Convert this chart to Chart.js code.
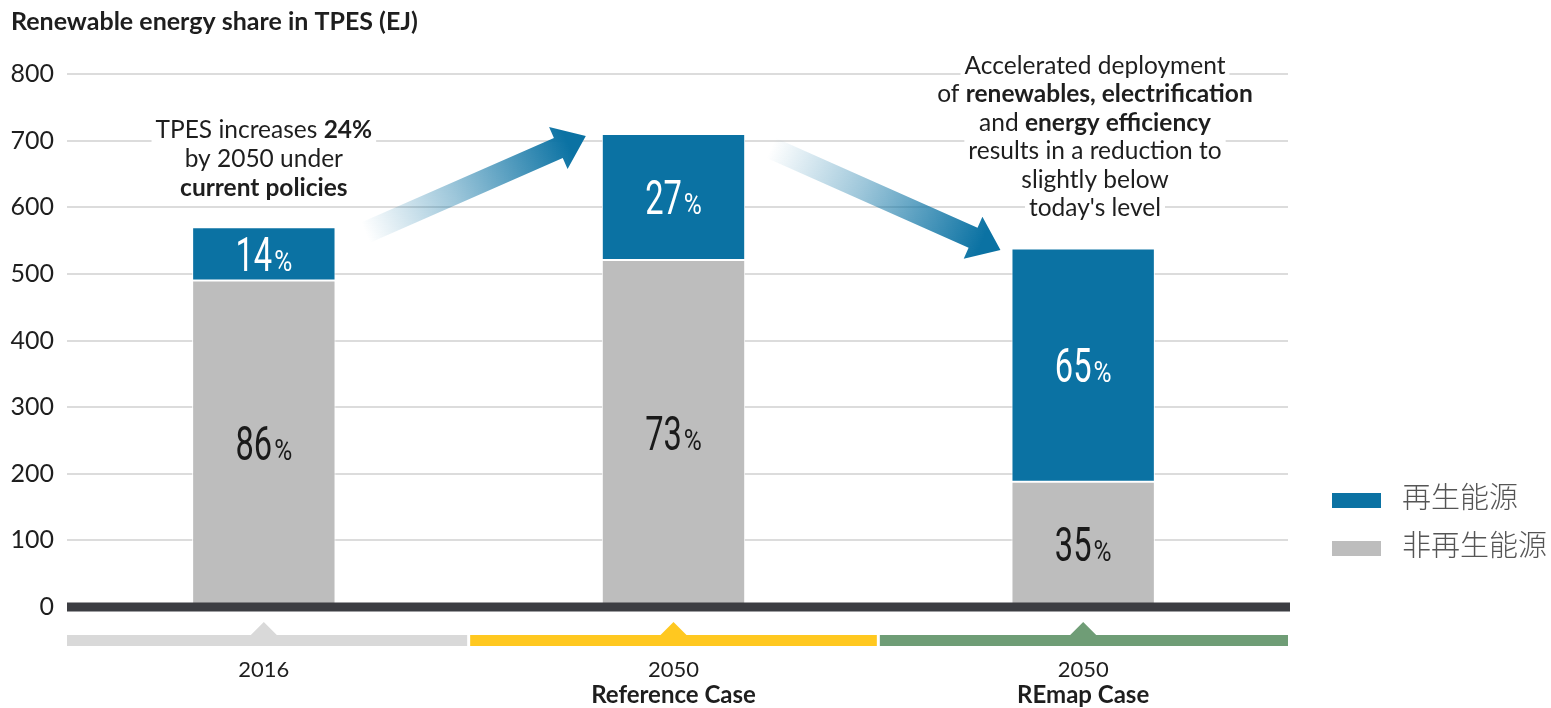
<!DOCTYPE html>
<html lang="en"><head><meta charset="UTF-8"><title>Renewable energy share in TPES</title>
<style>
  html,body{margin:0;padding:0;background:#fff;}
  .wrap{position:relative;width:1551px;height:708px;}
</style>
<script src="https://cdn.jsdelivr.net/npm/chart.js"></script>
</head><body>
<div class="wrap"><canvas id="c" width="1551" height="708"></canvas></div>
<script>
// --- data ---
const years      = ['2016', '2050', '2050'];
const caseNames  = ['', 'Reference Case', 'REmap Case'];
const nonRenew   = [490, 521, 188];   // EJ, grey segment
const renew      = [80, 189, 350];    // EJ, blue segment
const nonPct     = [86, 73, 35];
const renewPct   = [14, 27, 65];
const yTicks     = [0, 100, 200, 300, 400, 500, 600, 700, 800];
const seriesNames = ['再生能源', '非再生能源'];
const bandColors = ['#d9d9d9', '#ffc820', '#6f9d76'];

const title = 'Renewable energy share in TPES (EJ)';
// rich-text notes: [text, bold]
const noteLeft = [
  [['TPES increases ', false], ['24%', true]],
  [['by 2050 under', false]],
  [['current policies', true]]
];
const noteRight = [
  [['Accelerated deployment', false]],
  [['of ', false], ['renewables, electrification', true]],
  [['and ', false], ['energy efficiency', true]],
  [['results in a reduction to', false]],
  [['slightly below', false]],
  [["today's level", false]]
];

const BLUE = '#0b72a3';
const GREY = '#bdbdbd';
const FONT = "Lato, 'Open Sans', sans-serif";
const NUMF = "Roboto, 'DejaVu Sans', sans-serif";
const LINE_START = 67;   // gridlines begin right of the tick labels

function richLine(ctx, segs, cx, cy, size) {
  let w = 0;
  const parts = segs.map(([t, b]) => {
    ctx.font = (b ? '700 ' : '400 ') + size + 'px ' + FONT;
    const sw = ctx.measureText(t).width;
    w += sw;
    return { t, b, sw };
  });
  ctx.fillStyle = '#fff';
  ctx.fillRect(cx - w / 2 - 4, cy - size * 0.5, w + 8, size * 1.0);
  let x = cx - w / 2;
  ctx.fillStyle = '#1e1e1e';
  ctx.textBaseline = 'middle';
  ctx.textAlign = 'left';
  for (const p of parts) {
    ctx.font = (p.b ? '700 ' : '400 ') + size + 'px ' + FONT;
    ctx.fillText(p.t, x, cy);
    x += p.sw;
  }
}

function arrow(ctx, x0, y0, x1, y1) {
  const ang = Math.atan2(y1 - y0, x1 - x0);
  const len = Math.hypot(x1 - x0, y1 - y0);
  const shaft = 11, head = 23, headLen = 30;
  ctx.save();
  ctx.translate(x0, y0);
  ctx.rotate(ang);
  const g = ctx.createLinearGradient(0, 0, len, 0);
  g.addColorStop(0, 'rgba(11,114,163,0)');
  g.addColorStop(0.4, 'rgba(11,114,163,0.4)');
  g.addColorStop(0.92, 'rgba(11,114,163,1)');
  ctx.fillStyle = g;
  ctx.beginPath();
  ctx.moveTo(0, -shaft);
  ctx.lineTo(len - headLen, -shaft);
  ctx.lineTo(len - headLen, -head);
  ctx.lineTo(len, 0);
  ctx.lineTo(len - headLen, head);
  ctx.lineTo(len - headLen, shaft);
  ctx.lineTo(0, shaft);
  ctx.closePath();
  ctx.fill();
  ctx.restore();
}

const decor = {
  id: 'decor',
  beforeDatasetsDraw(chart) {
    // trim the grid so it starts a little right of the labels
    const { ctx, chartArea: ca } = chart;
    ctx.fillStyle = '#fff';
    ctx.fillRect(ca.left - 2, ca.top - 3, LINE_START - ca.left + 2, ca.bottom - ca.top + 6);
  },
  afterDatasetsDraw(chart) {
    const { ctx, chartArea: ca, scales: { x, y } } = chart;
    const bars = chart.getDatasetMeta(1).data;
    const y0 = y.getPixelForValue(0);

    // arrows between the bars
    const half = bars[0].width / 2;
    arrow(ctx, bars[0].x + half + 30, y.getPixelForValue(562),
               bars[1].x - half - 16, y.getPixelForValue(707));
    arrow(ctx, bars[1].x + half + 26, y.getPixelForValue(689),
               bars[2].x - half - 11, y.getPixelForValue(536));

    // percentage labels inside segments (condensed digits)
    const lbl = (pct, cx, cy, col) => {
      ctx.save();
      ctx.fillStyle = col;
      ctx.textBaseline = 'alphabetic';
      ctx.textAlign = 'left';
      const n = String(pct);
      ctx.font = '400 48px ' + NUMF;
      const nw = ctx.measureText(n).width * 0.68;
      ctx.font = '400 30px ' + NUMF;
      const pw = ctx.measureText('%').width * 0.82;
      const sx = cx - (nw + pw + 2) / 2;
      ctx.translate(sx, cy + 17);
      ctx.save();
      ctx.scale(0.68, 1);
      ctx.font = '400 48px ' + NUMF;
      ctx.fillText(n, 0, 0);
      ctx.restore();
      ctx.translate(nw + 2, 0);
      ctx.scale(0.82, 1);
      ctx.font = '400 30px ' + NUMF;
      ctx.fillText('%', 0, 0);
      ctx.restore();
    };
    chart.getDatasetMeta(0).data.forEach((b, i) => {
      lbl(nonPct[i], b.x, (b.y + b.base) / 2, '#1a1a1a');
    });
    bars.forEach((b, i) => {
      lbl(renewPct[i], b.x, (b.y + b.base) / 2, '#ffffff');
    });

    // thick zero axis
    ctx.fillStyle = '#3c3d42';
    ctx.fillRect(LINE_START, y0 - 4.5, ca.right + 2 - LINE_START, 9);

    // coloured bands with pointers and category labels
    const step = (ca.right - ca.left) / years.length;
    years.forEach((yr, i) => {
      const cx = x.getPixelForValue(i);
      const l = i ? ca.left + step * i + 1.5 : LINE_START;
      const r = ca.left + step * (i + 1) - (i < years.length - 1 ? 1.5 : 0);
      ctx.fillStyle = bandColors[i];
      ctx.fillRect(l, y0 + 28, r - l, 11);
      ctx.beginPath();
      ctx.moveTo(cx - 14, y0 + 29);
      ctx.lineTo(cx, y0 + 15);
      ctx.lineTo(cx + 14, y0 + 29);
      ctx.closePath();
      ctx.fill();
      ctx.fillStyle = '#1e1e1e';
      ctx.textAlign = 'center';
      ctx.textBaseline = 'middle';
      ctx.font = '400 22px ' + FONT;
      ctx.fillText(yr, cx, y0 + 63);
      if (caseNames[i]) {
        ctx.font = '700 24px ' + FONT;
        ctx.fillText(caseNames[i], cx, y0 + 88);
      }
    });

    // notes
    noteLeft.forEach((ln, i) => richLine(ctx, ln, bars[0].x, 130 + i * 29, 24.5));
    noteRight.forEach((ln, i) => richLine(ctx, ln, 1095, 66 + i * 28.5, 24.5));

    // title
    ctx.fillStyle = '#1e1e1e';
    ctx.textAlign = 'left';
    ctx.textBaseline = 'middle';
    ctx.font = '700 25px ' + FONT;
    ctx.fillText(title, 11, 22);

    // legend
    const cols = [BLUE, GREY];
    seriesNames.forEach((s, i) => {
      const ly = 500 + i * 48;
      ctx.fillStyle = cols[i];
      ctx.fillRect(1332, ly - 7, 49, 15);
      ctx.fillStyle = '#555';
      ctx.font = "300 29px 'Noto Sans CJK SC', sans-serif";
      ctx.fillText(s, 1402, ly - 3);
    });
  }
};

new Chart(document.getElementById('c').getContext('2d'), {
  type: 'bar',
  data: {
    labels: years,
    datasets: [
      { label: seriesNames[1], data: nonRenew, backgroundColor: GREY,
        borderColor: '#ffffff', borderWidth: 1, borderSkipped: false,
        barPercentage: 1, categoryPercentage: 0.35 },
      { label: seriesNames[0], data: renew, backgroundColor: BLUE,
        borderColor: '#ffffff', borderWidth: 1, borderSkipped: false,
        barPercentage: 1, categoryPercentage: 0.35 }
    ]
  },
  options: {
    responsive: false,
    animation: false,
    layout: { padding: { top: 74, right: 263, left: 0, bottom: 0 } },
    plugins: { legend: { display: false }, tooltip: { enabled: false } },
    scales: {
      x: {
        stacked: true,
        grid: { display: false },
        border: { display: false },
        ticks: { display: false },
        afterFit: s => { s.height = 101; }
      },
      y: {
        stacked: true,
        min: 0, max: 800,
        afterBuildTicks: s => { s.ticks = yTicks.map(v => ({ value: v })); },
        afterFit: s => { s.width = 59; },
        grid: { color: '#dcdcdc', lineWidth: 2, drawTicks: false },
        border: { display: false },
        ticks: { padding: 5, color: '#1e1e1e', font: { family: FONT, size: 25 } }
      }
    }
  },
  plugins: [decor]
});
</script>
</body></html>
